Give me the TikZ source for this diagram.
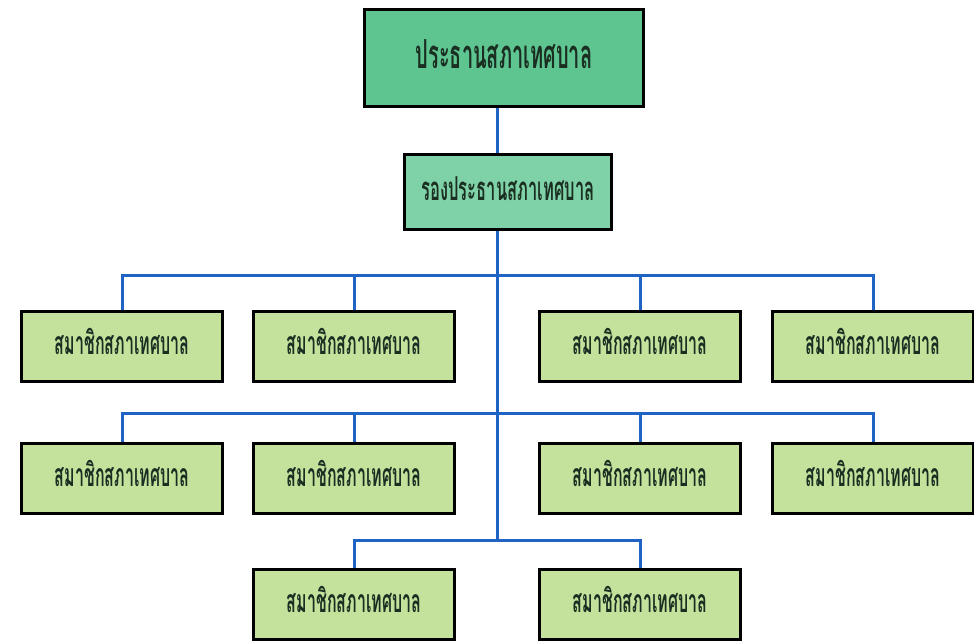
\documentclass[tikz,border=0pt]{standalone}
\usepackage{fontspec}
\newfontfamily\thaifont[Script=Thai,FakeStretch=0.5]{Loma}
\definecolor{topfill}{HTML}{5FC590}
\definecolor{vicefill}{HTML}{7FD2A7}
\definecolor{memfill}{HTML}{C4E29C}
\definecolor{linkblue}{HTML}{1F63C4}
\definecolor{txt}{HTML}{1B2E22}
\begin{document}
\begin{tikzpicture}[x=1pt,y=-1pt,
  box/.style={draw=black,line width=3pt,inner sep=0pt,anchor=north west,text=txt,text depth=0pt},
  chair/.style={box,fill=topfill,minimum width=279pt,minimum height=97pt,text height=20pt,font=\thaifont\bfseries\fontsize{40}{44}\selectfont},
  vice/.style={box,fill=vicefill,minimum width=207pt,minimum height=75pt,text height=16pt,font=\thaifont\bfseries\fontsize{33}{37}\selectfont},
  member/.style={box,fill=memfill,minimum width=201pt,minimum height=70pt,text height=16pt,font=\thaifont\bfseries\fontsize{32}{36}\selectfont},
  link/.style={draw=linkblue,line width=3pt}]
\useasboundingbox (0,0) rectangle (974,640);
\coordinate (j1) at (497,275);
\coordinate (j2) at (497,413);
\coordinate (j3) at (497,540);
\node[chair] (chair) at (363,8) {ประธานสภาเทศบาล};
\node[vice] (vice) at (403,153) {รองประธานสภาเทศบาล};
% row 1
\node[member] (m11) at (20,310) {สมาชิกสภาเทศบาล};
\node[member] (m12) at (252,310) {สมาชิกสภาเทศบาล};
\node[member] (m13) at (538,310) {สมาชิกสภาเทศบาล};
\node[member] (m14) at (771,310) {สมาชิกสภาเทศบาล};
% row 2
\node[member] (m21) at (20,442) {สมาชิกสภาเทศบาล};
\node[member] (m22) at (252,442) {สมาชิกสภาเทศบาล};
\node[member] (m23) at (538,442) {สมาชิกสภาเทศบาล};
\node[member] (m24) at (771,442) {สมาชิกสภาเทศบาล};
% row 3
\node[member] (m31) at (252,568) {สมาชิกสภาเทศบาล};
\node[member] (m32) at (538,568) {สมาชิกสภาเทศบาล};
\path[link] (chair.south -| j1) -- (vice.north -| j1);
\path[link] (vice.south -| j1) -- (j3);
\path[link] (m11.north) |- (j1) -| (m14.north);
\path[link] (m12.north) -- (m12.north |- j1);
\path[link] (m13.north) -- (m13.north |- j1);
\path[link] (m21.north) |- (j2) -| (m24.north);
\path[link] (m22.north) -- (m22.north |- j2);
\path[link] (m23.north) -- (m23.north |- j2);
\path[link] (m31.north) |- (j3) -| (m32.north);
\end{tikzpicture}
\end{document}
